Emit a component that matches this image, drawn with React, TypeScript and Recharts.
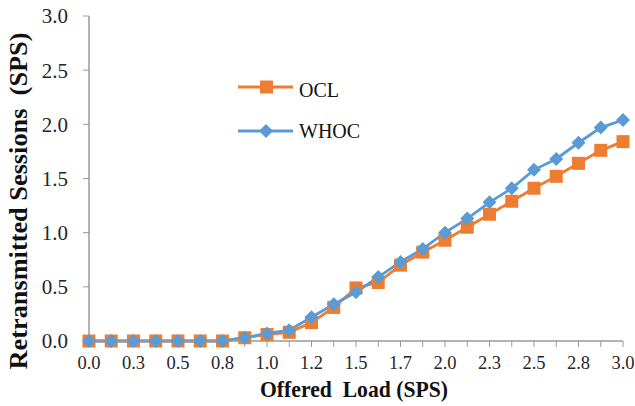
import React from "react";
import { LineChart, Line, XAxis, YAxis, Legend } from "recharts";

const categories = [
  "0.0", "0.1", "0.3", "0.4", "0.5", "0.6", "0.8", "0.9", "1.0", "1.1", "1.2", "1.4", "1.5",
  "1.6", "1.7", "1.9", "2.0", "2.1", "2.3", "2.4", "2.5", "2.6", "2.8", "2.9", "3.0",
];
const oclValues = [
  0, 0, 0, 0, 0, 0, 0, 0.03, 0.06, 0.08, 0.17, 0.31, 0.49, 0.54, 0.7, 0.82, 0.93, 1.05, 1.17,
  1.29, 1.41, 1.52, 1.64, 1.76, 1.84,
];
const whocValues = [
  0, 0, 0, 0, 0, 0, 0, 0.03, 0.07, 0.1, 0.22, 0.34, 0.45, 0.59, 0.73, 0.85, 1.0, 1.13, 1.28,
  1.41, 1.58, 1.68, 1.83, 1.97, 2.04,
];
const yTicks = [0, 0.5, 1, 1.5, 2, 2.5, 3];

const ORANGE = "#ED7D31";
const BLUE = "#5B9BD5";
const AXIS = "#9A9A9A";
const FONT = "'Liberation Serif', 'Times New Roman', serif";

const data = categories.map((c, i) => ({ x: c, ocl: oclValues[i], whoc: whocValues[i] }));

const SquareDot = (props: any) => {
  const { cx, cy } = props;
  if (cx == null || cy == null) return null;
  return <rect x={cx - 6.5} y={cy - 6.5} width={13} height={13} fill={ORANGE} />;
};

const DiamondDot = (props: any) => {
  const { cx, cy } = props;
  if (cx == null || cy == null) return null;
  const r = 7;
  return (
    <polygon
      points={`${cx},${cy - r} ${cx + r},${cy} ${cx},${cy + r} ${cx - r},${cy}`}
      fill={BLUE}
    />
  );
};

const XTick = (props: any) => {
  const { x, y, payload } = props;
  const idx = props.index ?? payload.index;
  if (idx % 2 !== 0) return null;
  return (
    <text x={x} y={y} dy="0.71em" textAnchor="middle" fontFamily={FONT} fontSize={18.5} fill="#262626">
      {payload.value}
    </text>
  );
};

const renderLegend = () => (
  <svg width={140} height={80} style={{ display: "block" }}>
    <line x1={0} y1={15} x2={55} y2={15} stroke={ORANGE} strokeWidth={3} />
    <rect x={22} y={8.5} width={13} height={13} fill={ORANGE} />
    <text x={61} y={25} fontFamily={FONT} fontSize={20} fill="#111">OCL</text>
    <line x1={0} y1={59} x2={55} y2={59} stroke={BLUE} strokeWidth={3} />
    <polygon points="28,52 35,59 28,66 21,59" fill={BLUE} />
    <text x={61} y={66} fontFamily={FONT} fontSize={20} fill="#111">WHOC</text>
  </svg>
);

export default function App() {
  return (
    <div style={{ position: "absolute", left: 0, top: 0, width: 635, height: 406, background: "#fff" }}>
      <LineChart width={635} height={406} data={data} margin={{ top: 16, right: 12, left: 0, bottom: 0 }}>
        <XAxis
          dataKey="x"
          type="category"
          interval={0}
          height={65}
          tick={<XTick />}
          tickSize={6}
          tickMargin={9}
          axisLine={{ stroke: AXIS, strokeWidth: 1.5 }}
          tickLine={{ stroke: AXIS, strokeWidth: 1 }}
          label={{
            content: () => (
              <text
                x={354}
                y={397}
                textAnchor="middle"
                fontFamily={FONT}
                fontWeight="bold"
                fontSize={24}
                textLength={188}
                lengthAdjust="spacingAndGlyphs"
                fill="#111"
              >
                {"Offered\u00A0 Load (SPS)"}
              </text>
            ),
          }}
        />
        <YAxis
          type="number"
          domain={[0, 3]}
          ticks={yTicks}
          width={89}
          tickFormatter={(v: number) => v.toFixed(1)}
          tick={{ fontFamily: FONT, fontSize: 21, fill: "#262626" }}
          tickSize={6}
          tickMargin={15}
          axisLine={{ stroke: AXIS, strokeWidth: 1.5 }}
          tickLine={{ stroke: AXIS, strokeWidth: 1 }}
          label={{
            content: () => (
              <text
                x={27}
                y={201}
                transform="rotate(-90, 27, 201)"
                textAnchor="middle"
                fontFamily={FONT}
                fontWeight="bold"
                fontSize={25}
                textLength={337}
                lengthAdjust="spacingAndGlyphs"
                fill="#111"
              >
                {"Retransmitted Sessions\u00A0 (SPS)"}
              </text>
            ),
          }}
        />
        <Legend
          layout="vertical"
          align="center"
          verticalAlign="middle"
          content={renderLegend}
          wrapperStyle={{ position: "absolute", left: 238, top: 72, width: 140, height: 80 }}
        />
        <Line
          dataKey="ocl"
          name="OCL"
          stroke={ORANGE}
          strokeWidth={2.8}
          dot={<SquareDot />}
          activeDot={false}
          isAnimationActive={false}
        />
        <Line
          dataKey="whoc"
          name="WHOC"
          stroke={BLUE}
          strokeWidth={2.8}
          dot={<DiamondDot />}
          activeDot={false}
          isAnimationActive={false}
        />
      </LineChart>
    </div>
  );
}
